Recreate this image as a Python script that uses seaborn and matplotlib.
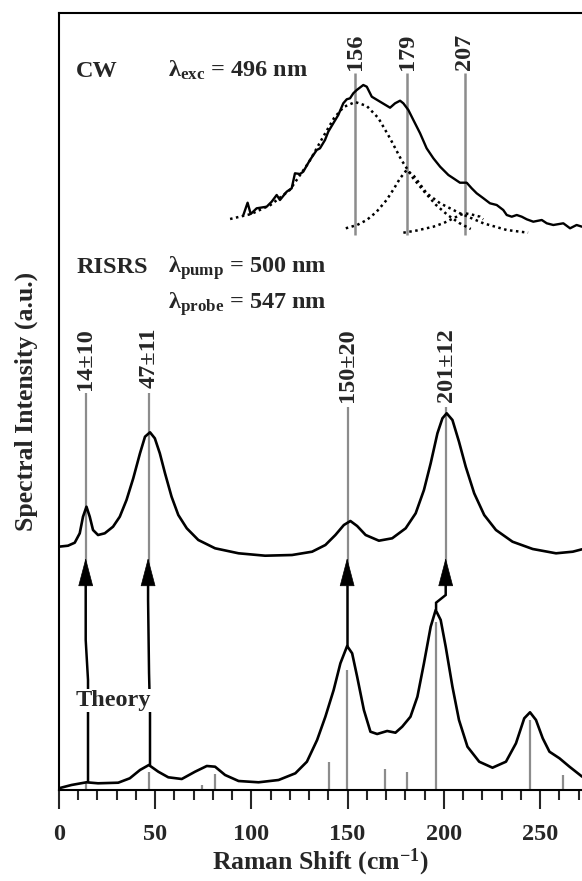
import numpy as np
import pandas as pd
import matplotlib
matplotlib.use("Agg")
import matplotlib.pyplot as plt
import seaborn as sns

# ---------------- data (x in cm^-1, y in arbitrary units) ----------------
cw_x = [95.9, 98.1, 99.7, 102.8, 108.0, 110.6, 113.2, 114.9, 118.4, 121.0, 122.7, 125.3,
        127.0, 130.5, 134.0, 135.7, 138.3, 140.0, 142.6, 145.2, 147.8, 149.6, 151.3, 153.0,
        154.8, 158.2, 160.0, 162.6, 166.9, 172.1, 174.7, 177.3, 179.0, 181.6, 184.2, 187.7,
        191.1, 194.6, 198.1, 202.4, 205.0, 208.4, 211.9, 214.5, 217.1, 220.6, 224.0, 227.5,
        230.9, 232.7, 235.3, 237.9, 240.5, 243.1, 246.5, 250.9, 253.5, 256.9, 262.1, 265.6,
        269.0, 271.8]
cw_y = [575.0, 587.3, 576.0, 581.7, 583.3, 588.3, 595.0, 590.0, 598.3, 601.7, 616.7, 616.0,
        618.3, 630.0, 640.0, 641.7, 650.0, 658.3, 666.7, 675.0, 686.7, 690.7, 691.7, 696.7,
        700.0, 705.0, 703.3, 693.3, 688.3, 682.3, 686.7, 689.3, 686.7, 680.0, 670.0, 656.7,
        641.7, 631.7, 623.3, 615.0, 611.7, 607.3, 607.3, 601.7, 596.7, 591.7, 586.7, 585.0,
        580.0, 575.0, 573.3, 575.0, 573.3, 570.7, 568.3, 570.0, 566.7, 565.0, 566.7, 561.7,
        565.0, 563.3]

fit1_x = [89, 100, 110, 120, 130, 137, 143, 148, 154, 160, 166, 172, 178, 184, 190, 196, 202, 208, 214]
fit1_y = [571, 576, 585, 600, 628, 652, 672, 683, 688, 684, 672, 652, 630, 612, 598, 585, 575, 567, 561]
fit2_x = [149.1, 155.0, 160.0, 165.0, 170.3, 174.0, 177.3, 180.7, 184.5, 188.0, 191.1, 198.1, 208.4, 220.6, 232.7, 243.8]
fit2_y = [561.7, 565.0, 570.0, 578.0, 590.0, 601.0, 611.7, 620.0, 614.0, 605.0, 596.7, 586.7, 576.7, 566.7, 560.0, 557.3]
fit3_x = [179.0, 186.0, 194.6, 200.0, 205.0, 208.5, 211.0, 214.5, 218.8, 220.5]
fit3_y = [557.3, 559.5, 563.3, 567.0, 571.7, 575.0, 576.7, 575.5, 573.3, 570.7]

cw_lines = [154, 181, 211]
cw_labels = ["156", "179", "207"]

risrs_x = [0.0, 4.8, 8.3, 10.9, 12.6, 14.4, 16.1, 17.8, 20.4, 23.9, 28.2, 31.7, 35.2, 38.7,
           42.2, 44.8, 47.4, 49.9, 52.5, 55.2, 58.6, 62.1, 66.5, 72.5, 81.2, 93.4, 107.2,
           121.2, 131.6, 138.5, 143.7, 148.1, 151.5, 155.0, 159.4, 166.3, 173.2, 180.2,
           185.4, 189.7, 193.2, 196.7, 199.3, 201.5, 204.5, 207.9, 211.4, 215.8, 221.0,
           227.1, 235.7, 246.2, 258.3, 267.0, 271.8]
risrs_y = [243.3, 244.3, 247.3, 256.7, 273.3, 283.3, 273.3, 260.0, 255.0, 256.7, 263.3, 273.3,
           290.0, 311.7, 336.7, 353.3, 357.7, 351.7, 336.7, 316.7, 293.3, 275.0, 261.7, 250.0,
           241.7, 236.7, 234.3, 235.0, 238.3, 245.0, 255.0, 265.0, 269.0, 264.0, 255.0, 249.3,
           251.7, 261.7, 276.7, 300.0, 326.7, 356.7, 371.7, 376.7, 370.0, 348.3, 323.3, 296.7,
           275.0, 260.0, 248.3, 241.0, 236.7, 238.3, 240.7]
risrs_lines = [14.0, 46.8, 150.0, 201.2]
risrs_labels = ["14\u00b110", "47\u00b111", "150\u00b120", "201\u00b112"]
risrs_line_top = [397, 397, 383, 383]

theory_x = [0.0, 6.6, 14.4, 20.4, 30.9, 36.9, 42.2, 46.8, 51.7, 56.9, 63.9, 70.8, 76.9, 81.2,
            86.4, 93.4, 103.8, 114.2, 122.9, 128.9, 134.2, 138.5, 142.8, 146.3, 149.8, 152.4,
            155.0, 158.5, 161.9, 165.4, 170.6, 174.9, 178.4, 182.7, 186.3, 189.7, 193.2,
            195.8, 198.4, 201.0, 204.5, 207.9, 212.3, 218.4, 225.3, 232.3, 237.5, 241.8,
            244.8, 247.9, 251.4, 254.9, 260.1, 265.3, 271.9]
theory_y = [1.7, 5.0, 7.7, 6.7, 7.3, 11.7, 20.0, 25.0, 18.3, 12.7, 11.0, 18.3, 24.0, 23.3,
            15.0, 9.0, 7.7, 10.0, 16.7, 28.3, 50.0, 73.3, 100.0, 126.7, 144.0, 136.7,
            113.3, 80.0, 58.3, 56.0, 59.0, 57.3, 63.3, 73.3, 93.3, 126.7, 163.3,
            180.0, 170.0, 143.3, 103.3, 70.0, 43.3, 28.3, 22.3, 28.3, 46.7, 71.7,
            77.7, 70.0, 51.7, 38.3, 31.7, 23.3, 13.3]

stick_x = [14.4, 46.8, 74.3, 81.2, 140.6, 149.8, 169.7, 181.1, 196.0, 244.9, 261.8]
stick_y = [8, 18, 5, 15.7, 28.3, 120, 21, 17.7, 168, 70, 15]

# arrows from theory peaks to RISRS peaks
arrow_paths = [
    ([15.2, 15.2, 14.0, 14.0], [7.7, 110, 150, 205]),
    ([47.4, 47.4, 46.9, 46.4, 46.4], [25.0, 77, 117, 190, 205]),
    ([149.8, 149.8], [144.0, 205]),
    ([196.0, 196.0, 201.0, 201.0], [180.0, 187.3, 195.0, 205]),
]
arrow_tip = 232
arrow_base = 205

# ---------------- style ----------------
sns.set_style("ticks")
plt.rcParams["font.family"] = ["Liberation Serif", "DejaVu Serif"]
plt.rcParams["font.weight"] = "bold"
plt.rcParams["mathtext.fontset"] = "custom"
plt.rcParams["mathtext.rm"] = "Liberation Serif:bold"
plt.rcParams["mathtext.bf"] = "Liberation Serif:bold"
plt.rcParams["mathtext.it"] = "Liberation Serif:bold"
plt.rcParams["lines.solid_joinstyle"] = "round"
plt.rcParams["lines.solid_capstyle"] = "round"
FS = 17.5
FSL = 18.5
GRAY = "#8c8c8c"

fig = plt.figure(figsize=(5.82, 8.81), dpi=100)
ax = fig.add_axes([58.75 / 582, 1 - 790 / 881, 1 - 58.75 / 582, (790 - 12.5) / 881])

# gray markers
ax.vlines(cw_lines, 555, 717, color=GRAY, lw=1.8, zorder=2)
for x, top in zip(risrs_lines, risrs_line_top):
    ax.vlines(x, 215, top, color=GRAY, lw=1.6, zorder=1)
ax.vlines(stick_x, 0, stick_y, color=GRAY, lw=1.6, zorder=1)

# spectra
sns.lineplot(x=cw_x, y=cw_y, ax=ax, color="black", lw=1.7, sort=False, zorder=3)
for fx, fy in [(fit1_x, fit1_y), (fit2_x, fit2_y), (fit3_x, fit3_y)]:
    ax.plot(fx, fy, color="black", lw=1.8, linestyle=(0, (1, 1.4)), zorder=3)
sns.lineplot(x=risrs_x, y=risrs_y, ax=ax, color="black", lw=1.9, zorder=3)
sns.lineplot(x=theory_x, y=theory_y, ax=ax, color="black", lw=1.9, zorder=3)

# arrows
for (px, py) in arrow_paths:
    ax.plot(px, py, color="black", lw=1.8, zorder=4, solid_joinstyle="miter",
            solid_capstyle="butt")
    ax.annotate("", xy=(px[-1], arrow_tip), xytext=(px[-1], arrow_base - 1),
                arrowprops=dict(arrowstyle="-|>,head_length=19,head_width=5",
                                mutation_scale=1, color="black", lw=0.5,
                                shrinkA=0, shrinkB=0), zorder=5)

# texts
ax.text(9.0, 713, "CW", fontsize=FS, fontweight="bold", va="baseline")
ax.text(56.9, 713, "\u03bb$_{\\mathbf{exc}}$ = 496 nm", fontsize=FS, fontweight="bold", va="baseline")
for x, lab in zip(cw_lines, cw_labels):
    ax.text(x, 720, lab, rotation=90, ha="center", va="bottom", fontsize=FS, fontweight="bold")

ax.text(9.0, 517, "RISRS", fontsize=FS, fontweight="bold", va="baseline")
ax.text(56.9, 517, "\u03bb$_{\\mathbf{pump}}$ = 500 nm", fontsize=FS, fontweight="bold", va="baseline")
ax.text(56.9, 481, "\u03bb$_{\\mathbf{probe}}$ = 547 nm", fontsize=FS, fontweight="bold", va="baseline")
for x, lab in zip(risrs_lines, risrs_labels):
    ax.text(x, 462, lab, rotation=90, ha="center", va="top", fontsize=FS, fontweight="bold")

ax.text(8.5, 84, "Theory", fontsize=FS, fontweight="bold", va="baseline", zorder=6,
        bbox=dict(facecolor="white", edgecolor="none", pad=1.0))

# axes
ax.set_xlim(0, 271.8)
ax.set_ylim(0, 777.5)
ax.set_yticks([])
ax.set_xticks([0, 50, 100, 150, 200, 250])
ax.set_xticks(np.arange(10, 271, 10), minor=True)
ax.tick_params(axis="x", which="major", direction="out", length=13.5, width=1.5,
               labelsize=FS, pad=11)
ax.tick_params(axis="x", which="minor", direction="out", length=7, width=1.5)
for lbl in ax.get_xticklabels():
    lbl.set_fontweight("bold")
for s in ["left", "bottom", "top"]:
    ax.spines[s].set_linewidth(1.5)
    ax.spines[s].set_color("black")
ax.spines["right"].set_visible(False)

ax.set_xlabel("Raman Shift (cm$^{\\mathbf{-1}}$)", fontsize=FSL, fontweight="bold", labelpad=1)
ax.set_ylabel("Spectral Intensity (a.u.)", fontsize=FSL, fontweight="bold", labelpad=15)

fig.savefig("out.png", dpi=100)
